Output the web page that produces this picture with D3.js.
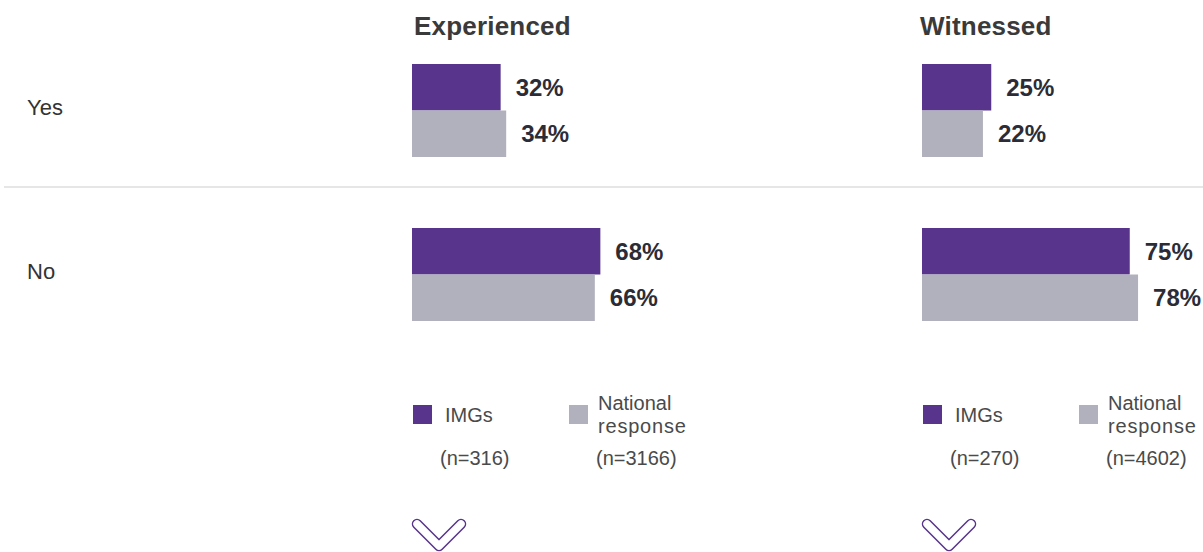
<!DOCTYPE html>
<html>
<head>
<meta charset="utf-8">
<script src="https://cdn.jsdelivr.net/npm/d3@7/dist/d3.min.js"></script>
<style>
  html, body { margin: 0; padding: 0; background: #fff; }
  svg { display: block; font-family: "Liberation Sans", Arial, sans-serif; }
</style>
</head>
<body>
<svg id="chart" width="1203" height="552"></svg>
<script>
// Answer categories (rows) and panels (columns)
const categories = ["Yes", "No"];
const panels = ["Experienced", "Witnessed"];
const seriesNames = ["IMGs", "National response"];

// Percentages per panel, in category order
const imgsExperienced = [32, 68];
const nationalExperienced = [34, 66];
const imgsWitnessed = [25, 75];
const nationalWitnessed = [22, 78];

// Sample sizes shown under the legend of each panel
const sampleImgs = ["(n=316)", "(n=270)"];
const sampleNational = ["(n=3166)", "(n=4602)"];

const colors = { "IMGs": "#58348c", "National response": "#b1b1bd" };

const svg = d3.select("#chart");
const W = 1203;

const panelData = [
  { name: panels[0], imgs: imgsExperienced, national: nationalExperienced, nI: sampleImgs[0], nN: sampleNational[0], hx: 2 },
  { name: panels[1], imgs: imgsWitnessed, national: nationalWitnessed, nI: sampleImgs[1], nN: sampleNational[1], hx: -2 }
];

// Panel origins along x
const px = d3.scaleBand().domain(panels).range([412, 1432]).paddingInner(0);
// Bar length
const x = d3.scaleLinear().domain([0, 100]).range([0, 277]);
// Category groups along y
const y = d3.scaleBand().domain(categories).range([64, 321]).paddingInner(0.433).paddingOuter(0);
// Series within a group
const ySub = d3.scaleBand().domain(seriesNames).range([0, y.bandwidth()]).padding(0);

// Row labels
svg.selectAll("text.row").data(categories).join("text")
  .attr("class", "row")
  .attr("x", 27)
  .attr("y", d => y(d) + y.bandwidth() / 2 - 3)
  .attr("dy", "0.35em")
  .attr("font-size", 22)
  .attr("fill", "#333")
  .text(d => d);

// Divider between rows
const lineY = y(categories[0]) + y.bandwidth() + 30;
svg.append("line")
  .attr("x1", 4).attr("x2", W)
  .attr("y1", lineY).attr("y2", lineY)
  .attr("stroke", "#dedede").attr("stroke-width", 1.5);

panelData.forEach(p => {
  const g = svg.append("g").attr("transform", `translate(${px(p.name)},0)`);

  g.append("text")
    .attr("x", p.hx).attr("y", 26).attr("dy", "0.35em")
    .attr("font-size", 26).attr("font-weight", "bold").attr("fill", "#3a3a3a")
    .attr("letter-spacing", 0.2)
    .text(p.name);

  const rows = categories.map((c, i) => [
    { cat: c, s: seriesNames[0], v: p.imgs[i] },
    { cat: c, s: seriesNames[1], v: p.national[i] }
  ]).flat();

  g.selectAll("rect.bar").data(rows).join("rect")
    .attr("class", "bar")
    .attr("x", x(0))
    .attr("y", d => y(d.cat) + ySub(d.s))
    .attr("width", d => x(d.v) - x(0))
    .attr("height", ySub.bandwidth())
    .attr("fill", d => colors[d.s]);

  g.selectAll("text.val").data(rows).join("text")
    .attr("class", "val")
    .attr("x", d => x(d.v) + 15)
    .attr("y", d => y(d.cat) + ySub(d.s) + ySub.bandwidth() / 2)
    .attr("dy", "0.35em")
    .attr("font-size", 24).attr("font-weight", "bold").attr("fill", "#2c2c36")
    .text(d => d.v + "%");

  // Legend
  const lg = g.append("g").attr("transform", "translate(0,405)");
  const legendFont = 20;
  lg.append("rect").attr("x", 1).attr("y", 0).attr("width", 19).attr("height", 19).attr("fill", colors[seriesNames[0]]);
  lg.append("text").attr("x", 33).attr("y", 10).attr("dy", "0.35em")
    .attr("font-size", legendFont).attr("fill", "#4a4a4a").text(seriesNames[0]);
  lg.append("text").attr("x", 28).attr("y", 53).attr("dy", "0.35em")
    .attr("font-size", legendFont).attr("fill", "#4a4a4a").text(p.nI);

  lg.append("rect").attr("x", 157).attr("y", 0).attr("width", 19).attr("height", 19).attr("fill", colors[seriesNames[1]]);
  const nat = lg.append("text").attr("font-size", legendFont).attr("fill", "#4a4a4a");
  nat.append("tspan").attr("x", 186).attr("y", -2).attr("dy", "0.35em").text("National");
  nat.append("tspan").attr("x", 186).attr("y", 21).attr("dy", "0.35em").attr("letter-spacing", 0.8).text("response");
  lg.append("text").attr("x", 184).attr("y", 53).attr("dy", "0.35em")
    .attr("font-size", legendFont).attr("fill", "#4a4a4a").text(p.nN);

  // Scroll-down chevron
  const chev = d3.line()([[5, 524], [27, 546], [49, 524]]);
  g.append("path").attr("d", chev).attr("fill", "none")
    .attr("stroke", colors[seriesNames[0]]).attr("stroke-width", 10.5)
    .attr("stroke-linecap", "round").attr("stroke-linejoin", "round");
  g.append("path").attr("d", chev).attr("fill", "none")
    .attr("stroke", "#fff").attr("stroke-width", 7.5)
    .attr("stroke-linecap", "round").attr("stroke-linejoin", "round");
});
</script>
</body>
</html>
